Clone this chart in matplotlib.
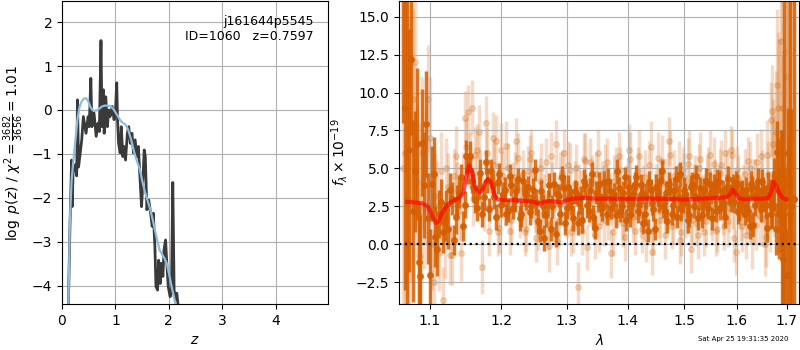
"""
Redshift fit figure: log p(z) on the left, G141 spectrum + model on the right.
"""

import numpy as np
import matplotlib
matplotlib.use('Agg')
import matplotlib.pyplot as plt
from matplotlib.ticker import FixedLocator, FixedFormatter, NullLocator

# Left panel: log p(z) from chi2 (dark) and smoothed posterior (blue)

z_chi2 = [0.08, 0.12, 0.15, 0.18, 0.19, 0.21, 0.245, 0.275, 0.29, 0.31,
          0.37, 0.40, 0.45, 0.49, 0.51, 0.54, 0.56, 0.60, 0.64, 0.675,
          0.70, 0.73, 0.75, 0.775, 0.79, 0.82, 0.85, 0.875, 0.90, 0.94,
          0.975, 1.0, 1.025, 1.04, 1.06, 1.09, 1.11, 1.14, 1.16, 1.19,
          1.225, 1.25, 1.28, 1.31, 1.34, 1.37, 1.40, 1.43, 1.46, 1.49,
          1.51, 1.54, 1.56, 1.59, 1.625, 1.66, 1.69, 1.71, 1.74, 1.76,
          1.79, 1.81, 1.84, 1.86, 1.89, 1.91, 1.94, 1.96, 1.99, 2.025,
          2.05, 2.075, 2.10, 2.125, 2.15, 2.175, 2.20]
logp_chi2 = [-8.0, -4.4, -2.6, -1.14, -2.2, -1.3, -1.25, -1.5, 0.23, -1.3,
             -0.68, -0.15, -0.53, -0.15, -0.38, 0.72, -0.38, -0.07, -0.6, -0.3,
             -0.49, 1.58, -0.38, 0.46, -0.53, 0.3, -0.38, 0.0, -0.15, 0.08,
             -0.22, -0.07, 0.62, -0.22, -0.76, -0.98, -0.38, -1.06, -0.83, -1.14,
             -0.53, -0.38, -0.76, -0.53, -0.98, -0.68, -1.06, -0.83, -1.52, -2.2,
             -1.75, -0.91, -1.06, -2.27, -2.05, -2.35, -2.65, -2.35, -3.11, -4.02,
             -4.1, -3.42, -3.95, -3.49, -3.79, -3.19, -2.96, -3.42, -4.02, -4.25,
             -4.17, -1.65, -4.1, -4.32, -4.17, -4.45, -7.0]

z_pz = [0.10, 0.12, 0.15, 0.18, 0.21, 0.25, 0.29, 0.33, 0.37, 0.41,
        0.45, 0.49, 0.53, 0.57, 0.61, 0.65, 0.70, 0.75, 0.80, 0.85,
        0.90, 0.95, 1.0, 1.05, 1.10, 1.15, 1.20, 1.24, 1.30, 1.35,
        1.40, 1.46, 1.50, 1.55, 1.60, 1.65, 1.70, 1.74, 1.79, 1.83,
        1.88, 1.92, 1.96, 2.0, 2.05, 2.11, 2.15, 2.2]
logp_pz = [-6.0, -4.4, -2.43, -1.6, -1.2, -0.7, -0.2, 0.08, 0.2, 0.26,
           0.27, 0.2, 0.07, 0.0, -0.02, -0.01, 0.03, 0.08, 0.1, 0.1,
           0.09, 0.04, -0.05, -0.15, -0.25, -0.3, -0.35, -0.45, -0.7, -0.95,
           -1.15, -1.36, -1.6, -1.85, -2.05, -2.25, -2.5, -2.73, -3.0, -3.19,
           -3.3, -3.38, -3.48, -3.7, -4.0, -4.33, -4.6, -5.5]

# Right panel: spectra (wavelength in nm, flux/errors in 1e-19 units)
# two beams, each shown as "dark" (combined) and "light" (individual)

wave_a_nm = [1065, 1070, 1075, 1080, 1085, 1090, 1095, 1100, 1105, 1110,
             1115, 1120, 1125, 1130, 1135, 1140, 1145, 1150, 1155, 1160,
             1165, 1170, 1175, 1180, 1185, 1190, 1195, 1200, 1205, 1210,
             1215, 1220, 1225, 1230, 1235, 1240, 1245, 1250, 1255, 1260,
             1265, 1270, 1275, 1280, 1285, 1290, 1295, 1300, 1305, 1310,
             1315, 1320, 1325, 1330, 1335, 1340, 1345, 1350, 1355, 1360,
             1365, 1370, 1375, 1380, 1385, 1390, 1395, 1400, 1405, 1410,
             1415, 1420, 1425, 1430, 1435, 1440, 1445, 1450, 1455, 1460,
             1465, 1470, 1475, 1480, 1485, 1490, 1495, 1500, 1505, 1510,
             1515, 1520, 1525, 1530, 1535, 1540, 1545, 1550, 1555, 1560,
             1565, 1570, 1575, 1580, 1585, 1590, 1595, 1600, 1605, 1610,
             1615, 1620, 1625, 1630, 1635, 1640, 1645, 1650, 1655, 1660,
             1665, 1670, 1675, 1680, 1685, 1690, 1695, 1700, 1705, 1710,
             1715]
wave_b_nm = [1067.5, 1072.5, 1077.5, 1082.5, 1087.5, 1092.5, 1097.5, 1102.5, 1107.5, 1112.5,
             1117.5, 1122.5, 1127.5, 1132.5, 1137.5, 1142.5, 1147.5, 1152.5, 1157.5, 1162.5,
             1167.5, 1172.5, 1177.5, 1182.5, 1187.5, 1192.5, 1197.5, 1202.5, 1207.5, 1212.5,
             1217.5, 1222.5, 1227.5, 1232.5, 1237.5, 1242.5, 1247.5, 1252.5, 1257.5, 1262.5,
             1267.5, 1272.5, 1277.5, 1282.5, 1287.5, 1292.5, 1297.5, 1302.5, 1307.5, 1312.5,
             1317.5, 1322.5, 1327.5, 1332.5, 1337.5, 1342.5, 1347.5, 1352.5, 1357.5, 1362.5,
             1367.5, 1372.5, 1377.5, 1382.5, 1387.5, 1392.5, 1397.5, 1402.5, 1407.5, 1412.5,
             1417.5, 1422.5, 1427.5, 1432.5, 1437.5, 1442.5, 1447.5, 1452.5, 1457.5, 1462.5,
             1467.5, 1472.5, 1477.5, 1482.5, 1487.5, 1492.5, 1497.5, 1502.5, 1507.5, 1512.5,
             1517.5, 1522.5, 1527.5, 1532.5, 1537.5, 1542.5, 1547.5, 1552.5, 1557.5, 1562.5,
             1567.5, 1572.5, 1577.5, 1582.5, 1587.5, 1592.5, 1597.5, 1602.5, 1607.5, 1612.5,
             1617.5, 1622.5, 1627.5, 1632.5, 1637.5, 1642.5, 1647.5, 1652.5, 1657.5, 1662.5,
             1667.5, 1672.5, 1677.5, 1682.5, 1687.5, 1692.5, 1697.5, 1702.5, 1707.5]

# dark points, beam A (on wave_a)
flux_dark_a = [20.0, 0.1, 12.2, 4.8, -1.2, 6.7, 7.9, -2.0, 4.6, -0.3,
               2.8, 1.5, 1.0, 3.0, 1.8, 3.4, 1.2, 5.8, 5.8, 3.8,
               2.4, 4.7, 3.1, 4.2, 4.8, 3.1, 4.1, 2.6, 3.6, 2.2,
               3.9, 2.9, 4.3, 2.0, 3.3, 3.8, 2.5, 4.9, 1.5, 3.5,
               0.4, 2.8, 1.0, 4.0, 3.3, 2.0, 3.7, 2.4, 3.1, 1.7,
               3.4, 2.7, 1.6, 3.9, 2.2, 4.6, 1.1, 3.0, 2.6, 4.1,
               2.0, 3.5, 2.9, 1.9, 3.7, 2.5, 4.4, 3.0, 1.9, 3.3,
               4.4, 2.6, 3.4, 2.0, 0.9, 3.6, 2.3, 3.8, 2.9, 4.8,
               2.2, 1.5, 3.6, 2.6, 4.3, 3.1, 2.3, 3.6, 2.7, 1.9,
               4.0, 3.2, 1.7, 3.7, 2.9, 4.2, 2.4, 3.4, 3.8, 2.2,
               4.1, 3.0, 2.7, 3.8, 3.3, 3.6, 2.8, 3.9, 2.3, 3.5,
               2.0, 3.1, 1.2, 3.7, 2.6, 3.4, 2.9, 4.1, 3.0, 1.1,
               3.3, 2.4, 4.1, 6.1, 2.0, 1.5, 0.5, -2.0, 4.0, 2.5,
               3.0]
err_dark_a = [12, 25, 5, 4, 4, 3.5, 3.5, 3, 2.5, 1.8,
              1.5, 1.3, 1.3, 1.1, 1.1, 1.0, 1.0, 1.1, 1.0, 0.9,
              0.9, 0.9, 0.9, 0.8, 0.8, 0.8, 0.8, 0.8, 0.8, 0.75,
              0.75, 0.8, 0.75, 0.85, 0.75, 0.7, 0.8, 0.75, 0.85, 0.75,
              0.85, 0.75, 0.8, 0.75, 0.7, 0.75, 0.85, 0.75, 0.75, 0.8,
              0.75, 0.7, 0.85, 0.75, 0.75, 0.8, 0.75, 0.85, 0.75, 0.7,
              0.75, 0.8, 0.75, 0.85, 0.75, 0.75, 0.7, 0.8, 0.75, 0.75,
              0.85, 0.75, 0.75, 0.8, 0.75, 0.7, 0.75, 0.85, 0.75, 0.75,
              0.8, 0.75, 0.75, 0.7, 0.85, 0.75, 0.75, 0.8, 0.75, 0.75,
              0.75, 0.85, 0.75, 0.7, 0.75, 0.8, 0.75, 0.75, 0.85, 0.75,
              0.75, 0.8, 0.75, 0.75, 0.7, 0.85, 0.75, 0.75, 0.8, 0.75,
              0.75, 0.75, 0.85, 0.8, 0.75, 0.75, 0.85, 0.85, 0.9, 0.95,
              1.0, 1.3, 1.6, 2.0, 3.0, 6.0, 30, 3.0, 3.0, 6.4,
              30]

# dark points, beam B (on wave_b)
flux_dark_b = [9.0, 6.2, 2.2, 6.6, -2.1, 3.9, 1.7, 4.0, 0.5, 2.0,
               0.8, 2.4, 3.6, 0.3, 2.9, 4.4, 2.6, 4.9, 4.2, 2.9,
               3.7, 2.0, 5.4, 2.3, 3.9, 1.8, 4.6, 3.3, 2.0, 4.5,
               2.4, 3.5, 1.7, 4.2, 3.0, 2.1, 3.6, 2.8, 0.9, 2.5,
               1.9, 3.9, 2.5, 0.7, 3.2, 4.4, 1.4, 3.8, 2.8, 3.5,
               1.4, 3.1, 4.2, 2.6, 3.6, 1.8, 3.4, 4.0, 2.4, 3.2,
               4.2, 2.4, 3.3, 4.8, 2.2, 3.4, 1.6, 3.8, 2.7, 4.0,
               2.2, 3.9, 1.4, 3.2, 4.1, 2.7, 1.0, 3.3, 4.2, 2.5,
               3.4, 4.0, 2.0, 3.5, 1.8, 4.6, 2.8, 3.3, 1.6, 3.8,
               2.5, 4.5, 3.0, 1.9, 3.6, 2.6, 4.0, 1.7, 3.3, 4.2,
               2.4, 3.5, 1.8, 4.3, 2.9, 3.8, 4.1, 2.1, 3.3, 2.6,
               3.6, 2.2, 4.0, 1.3, 3.2, 4.2, 2.3, 3.5, 2.6, 3.8,
               2.0, 3.5, 1.0, 4.5, 3.5, -1.0, 2.5, 6.0, 2.0]
err_dark_b = [12, 8, 6, 5, 4, 3.5, 3, 2.5, 2, 1.6,
              1.4, 1.2, 1.1, 1.0, 1.0, 0.9, 0.9, 0.9, 0.85, 0.85,
              0.8, 0.85, 0.8, 0.75, 0.8, 0.85, 0.75, 0.8, 0.75, 0.8,
              0.75, 0.8, 0.85, 0.75, 0.75, 0.8, 0.75, 0.85, 0.75, 0.8,
              0.75, 0.8, 0.75, 0.85, 0.75, 0.75, 0.8, 0.75, 0.85, 0.75,
              0.8, 0.75, 0.75, 0.85, 0.75, 0.8, 0.75, 0.75, 0.85, 0.75,
              0.8, 0.75, 0.75, 0.85, 0.75, 0.8, 0.75, 0.75, 0.85, 0.75,
              0.8, 0.75, 0.75, 0.85, 0.75, 0.8, 0.75, 0.75, 0.85, 0.75,
              0.8, 0.75, 0.75, 0.85, 0.75, 0.8, 0.75, 0.75, 0.85, 0.75,
              0.8, 0.75, 0.75, 0.85, 0.75, 0.8, 0.75, 0.75, 0.85, 0.75,
              0.8, 0.75, 0.75, 0.85, 0.75, 0.8, 0.75, 0.75, 0.85, 0.75,
              0.8, 0.75, 0.8, 0.85, 0.8, 0.8, 0.85, 0.9, 0.9, 0.95,
              1.0, 1.3, 1.7, 2.5, 4, 3, 2.5, 3, 30]

# light points, beam A (on wave_b)
flux_light_a = [6.0, 3.0, 9.6, 4.1, -0.8, 2.4, 9.6, 0.0, 3.2, -0.6,
                -3.7, 5.0, -0.7, 4.5, 3.6, -0.6, 8.3, 8.7, 9.0, 5.9,
                7.4, -1.5, 8.0, 0.9, 7.0, 6.8, 1.1, 4.5, 6.5, 0.9,
                3.8, 6.8, 2.1, 4.6, 1.0, 5.6, 3.2, 0.4, 4.2, 2.0,
                5.4, -0.1, 3.9, 6.6, 1.5, 4.7, 2.6, 5.2, 0.8, 4.0,
                -2.8, 3.3, 5.6, -0.2, 5.4, 2.1, 4.6, 1.2, 3.9, 5.0,
                1.8, -0.6, 4.2, 2.8, 4.9, 1.4, 3.6, 6.2, 2.5, 0.9,
                4.8, 1.9, 3.5, 0.4, 5.2, -0.5, 3.0, 5.7, 1.6, 4.1,
                2.3, 6.8, 1.2, 4.5, 2.9, 0.3, 4.9, 2.0, 5.3, -0.3,
                3.7, 1.4, 5.0, 2.6, 0.8, 4.4, 5.9, 1.8, 3.9, 1.0,
                4.7, 2.2, 6.0, 1.5, 6.2, 2.6, -0.5, 4.3, 1.9, 3.6,
                0.6, 5.5, 2.3, 4.0, 1.3, 3.4, 5.8, 1.7, 0.5, 4.6,
                8.2, 6.6, 7.4, 9.0, 13.4, 2.5, 12.7, 5.0, 3.0]
err_light_a = [14, 12, 6, 5, 4.5, 4, 3.5, 3.0, 2.8, 2.5,
               2.2, 2.0, 2.0, 1.8, 1.8, 1.8, 1.8, 1.8, 1.8, 1.8,
               1.8, 1.8, 1.8, 1.7, 1.7, 1.7, 1.7, 1.6, 1.6, 1.6,
               1.6, 1.5, 1.7, 1.6, 1.5, 1.6, 1.7, 1.6, 1.5, 1.6,
               1.6, 1.7, 1.5, 1.6, 1.6, 1.5, 1.7, 1.6, 1.6, 1.5,
               1.6, 1.6, 1.7, 1.5, 1.6, 1.6, 1.5, 1.7, 1.6, 1.6,
               1.5, 1.6, 1.7, 1.6, 1.5, 1.6, 1.6, 1.7, 1.5, 1.6,
               1.6, 1.5, 1.7, 1.6, 1.6, 1.5, 1.6, 1.7, 1.6, 1.5,
               1.6, 1.6, 1.5, 1.7, 1.6, 1.6, 1.5, 1.6, 1.7, 1.6,
               1.6, 1.5, 1.6, 1.7, 1.6, 1.5, 1.6, 1.6, 1.7, 1.5,
               1.6, 1.6, 1.5, 1.7, 1.6, 1.6, 1.5, 1.6, 1.7, 1.6,
               1.6, 1.6, 1.7, 1.6, 1.7, 1.7, 1.8, 1.9, 2.0, 2.2,
               2.5, 3, 4, 5, 7, 10, 12, 15, 20]

# light points, beam B (on wave_a)
flux_light_b = [5.0, 10.0, 7.5, 12.0, 2.0, 6.0, 4.5, 7.0, -2.5, 2.5,
                4.8, 0.2, 3.8, -0.7, 5.8, 2.2, 4.2, 6.4, 5.6, 3.0,
                6.2, 4.4, 2.5, 6.0, 3.6, 5.2, 0.8, 6.2, 2.8, 5.0,
                1.6, 4.4, 5.7, 2.9, 0.8, 4.8, 6.0, 2.4, 1.4, 5.0,
                3.0, 1.3, 5.8, 2.4, 0.2, 4.4, 6.0, 2.0, 4.9, 1.1,
                5.0, 3.6, 0.9, 5.5, 2.8, 4.2, 0.6, 6.0, 3.1, 1.6,
                5.4, 3.0, 0.8, 4.6, 5.8, 2.0, 0.5, 4.1, 5.6, 1.8,
                3.2, 5.8, 1.0, 4.4, 2.7, 6.4, 0.9, 3.7, 2.2, 5.5,
                0.6, 4.0, 5.9, 1.8, 3.2, 5.1, 0.8, 4.4, 2.5, 5.8,
                1.6, 4.2, 0.6, 5.6, 3.0, 1.5, 4.8, 2.2, 5.3, 0.9,
                3.6, 5.2, 1.2, 4.4, 2.4, 5.9, 0.4, 4.9, 2.8, 1.2,
                4.6, 2.4, 5.0, 0.2, 3.8, 5.4, 1.8, 4.2, 0.0, 5.9,
                2.0, 8.8, 4.5, 10.5, 6.5, 9.0, 0.5, 11.0, 4.0, 7.0,
                3.0]
err_light_b = [20, 15, 10, 7, 6, 5, 4.5, 4, 3.5, 3,
               2.6, 2.4, 2.2, 2.0, 2.0, 1.9, 1.9, 1.9, 1.8, 1.8,
               1.7, 1.8, 1.6, 1.7, 1.6, 1.7, 1.6, 1.8, 1.6, 1.7,
               1.6, 1.7, 1.6, 1.8, 1.6, 1.7, 1.6, 1.6, 1.8, 1.7,
               1.6, 1.7, 1.6, 1.8, 1.6, 1.7, 1.6, 1.6, 1.8, 1.7,
               1.6, 1.7, 1.6, 1.8, 1.6, 1.7, 1.6, 1.6, 1.8, 1.7,
               1.6, 1.7, 1.6, 1.8, 1.6, 1.7, 1.6, 1.6, 1.8, 1.7,
               1.6, 1.7, 1.6, 1.8, 1.6, 1.7, 1.6, 1.6, 1.8, 1.7,
               1.6, 1.7, 1.6, 1.8, 1.6, 1.7, 1.6, 1.6, 1.8, 1.7,
               1.6, 1.7, 1.6, 1.8, 1.6, 1.7, 1.6, 1.6, 1.8, 1.7,
               1.6, 1.7, 1.6, 1.8, 1.6, 1.7, 1.6, 1.6, 1.8, 1.7,
               1.7, 1.7, 1.8, 1.8, 1.8, 1.9, 1.9, 2.0, 2.1, 2.3,
               2.5, 3, 4, 5, 7, 9, 12, 15, 20, 25,
               25]

# best-fit model (red)
wave_model = [1.070, 1.080, 1.090, 1.098, 1.104, 1.108, 1.112, 1.118, 1.125, 1.133,
              1.140, 1.146, 1.150, 1.154, 1.158, 1.162, 1.167, 1.172, 1.177, 1.181,
              1.185, 1.190, 1.195, 1.205, 1.220, 1.235, 1.248, 1.257, 1.265, 1.275,
              1.285, 1.292, 1.300, 1.310, 1.330, 1.350, 1.380, 1.420, 1.460, 1.500,
              1.530, 1.560, 1.580, 1.587, 1.592, 1.597, 1.603, 1.615, 1.630, 1.650,
              1.662, 1.668, 1.673, 1.678, 1.684, 1.692, 1.700]
flux_model = [2.80, 2.75, 2.70, 2.45, 1.80, 1.40, 1.55, 2.20, 2.65, 2.90,
              3.05, 3.40, 4.50, 5.20, 4.80, 3.80, 3.40, 3.50, 4.10, 4.30,
              4.10, 3.30, 2.95, 2.90, 2.90, 2.85, 2.80, 2.65, 2.80, 2.85,
              2.80, 2.75, 2.90, 3.00, 3.05, 3.00, 3.00, 3.00, 3.00, 2.95,
              3.00, 3.05, 3.10, 3.30, 3.60, 3.35, 3.05, 2.95, 3.00, 3.00,
              3.05, 3.40, 4.10, 3.90, 3.40, 3.05, 2.95]

G141_COLOR = (0.8352941176470589, 0.3686274509803922, 0.0)

fig = plt.figure(figsize=(8, 3.5), dpi=100)
ax1 = fig.add_axes([0.0775, 0.131, 0.333, 0.866])
ax2 = fig.add_axes([0.499, 0.131, 0.5, 0.866])

# --- p(z) panel
ax1.plot(z_chi2, logp_chi2, color='#3a3a3a', linewidth=2.0)
ax1.plot(z_pz, logp_pz, color='#8fbcdf', linewidth=1.6)
ax1.set_xlim(0, 4.99)
ax1.set_ylim(-4.42, 2.48)
ax1.set_xticks([0, 1, 2, 3, 4])
ax1.set_yticks([-4, -3, -2, -1, 0, 1, 2])
ax1.grid(True)
ax1.set_xlabel(r'$z$')
ax1.set_ylabel(r'$\log\ p(z)$ / $\chi^2=\frac{3682}{3656}=1.01$')
ax1.text(0.945, 0.955, 'j161644p5545\nID=1060   z=0.7597',
         ha='right', va='top', fontsize=9, transform=ax1.transAxes)

# --- spectrum panel
wa = np.array(wave_a_nm) / 1000.
wb = np.array(wave_b_nm) / 1000.
for w, f, e in [(wb, flux_light_a, err_light_a), (wa, flux_light_b, err_light_b)]:
    ax2.errorbar(w, f, e, color=G141_COLOR, alpha=0.22, marker='o', markersize=4,
                 linestyle='None', elinewidth=2.5, zorder=1)
for w, f, e in [(wa, flux_dark_a, err_dark_a), (wb, flux_dark_b, err_dark_b)]:
    ax2.errorbar(w, f, e, color=G141_COLOR, alpha=0.85, marker='o', markersize=4,
                 linestyle='None', elinewidth=2.5, zorder=2)
ax2.plot(wave_model, flux_model, color='r', alpha=0.65, linewidth=3, zorder=3)
ax2.axhline(0, color='k', linestyle=':', linewidth=1.6, zorder=4)

ax2.set_xscale('log')
ax2.xaxis.set_major_locator(FixedLocator([1.1, 1.2, 1.3, 1.4, 1.5, 1.6, 1.7]))
ax2.xaxis.set_major_formatter(FixedFormatter(['1.1', '1.2', '1.3', '1.4', '1.5', '1.6', '1.7']))
ax2.xaxis.set_minor_locator(NullLocator())
ax2.set_xlim(1.0596, 1.7263)
ax2.set_ylim(-3.95, 16.03)
ax2.set_yticks([-2.5, 0.0, 2.5, 5.0, 7.5, 10.0, 12.5, 15.0])
ax2.grid(True)
ax2.set_xlabel(r'$\lambda$')
ax2.set_ylabel(r'$f_\lambda\times10^{-19}$')

fig.text(0.985, 0.022, 'Sat Apr 25 19:31:35 2020', ha='right', va='bottom', fontsize=5)

plt.savefig('out.png', dpi=100)
plt.close()
